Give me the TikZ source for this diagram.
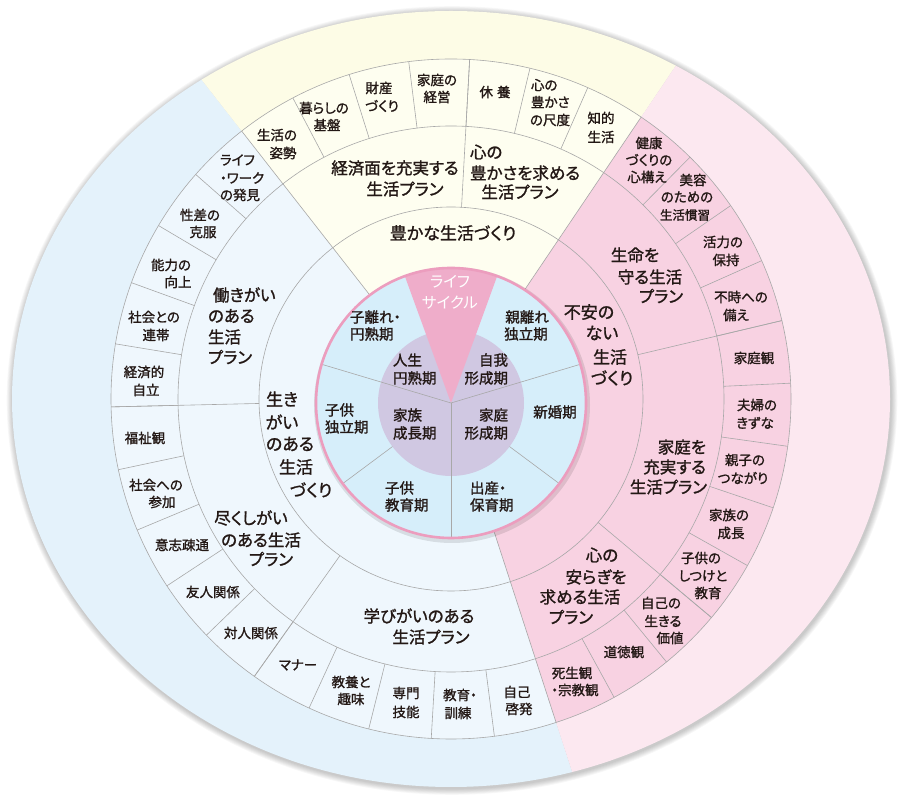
\documentclass[tikz,border=0pt]{standalone}
\usepackage{fontspec}
\setmainfont{Noto Sans CJK JP}[RawFeature={+palt},AutoFakeBold=1.3]
\definecolor{bandblue}{HTML}{E4F2FB}
\definecolor{cellblue}{HTML}{EFF7FD}
\definecolor{bandyel}{HTML}{FDFCE6}
\definecolor{cellyel}{HTML}{FEFEF0}
\definecolor{bandpink}{HTML}{FCE8F0}
\definecolor{cellpink}{HTML}{F8D2E2}
\definecolor{innerblue}{HTML}{D6EEFA}
\definecolor{innerpurp}{HTML}{D0C8E2}
\definecolor{wedgepink}{HTML}{EFADCA}
\definecolor{rimpink}{HTML}{EC9DBE}
\definecolor{gline}{HTML}{A8A8A8}
\definecolor{txt}{HTML}{231815}
\newcounter{tn}
\newcommand\tx[4]{\stepcounter{tn}\node[#1] (t\arabic{tn}) at (#2,{800-#3}) {#4};}
\begin{document}
\begin{tikzpicture}[x=1pt,y=1pt,
  lbl/.style={inner sep=0pt,outer sep=0pt,text=txt},
  item/.style={lbl,font=\fontsize{13.5}{16}\selectfont\bfseries},
  plan/.style={lbl,font=\fontsize{16.5}{19}\selectfont\bfseries},
  big/.style={lbl,font=\fontsize{17}{20}\selectfont\bfseries},
  inn/.style={lbl,font=\fontsize{14.5}{17}\selectfont\bfseries},
  wtxt/.style={inner sep=0pt,text=white,font=\fontsize{15.5}{18}\selectfont},
  gl/.style={draw=gline,line width=0.6pt}]
\useasboundingbox (0,0) rectangle (900,800);
\fill[white] (0,0) rectangle (900,800);
\coordinate (C) at (451,401);
\coordinate (c0) at (451,397);
% outer shadow
\foreach \i in {1,...,7}{
  \pgfmathsetmacro\rx{439+\i*0.9}
  \pgfmathsetmacro\ry{388+\i*0.9}
  \fill[black,opacity=0.03] ([shift={(1,-1.5)}]C) ellipse [x radius=\rx, y radius=\ry];
}
% outer band
\begin{scope}
\clip (C) ellipse [x radius=439, y radius=388];
\fill[bandblue] (C) -- ++(128:600) arc[start angle=128,end angle=288,radius=600] -- cycle;
\fill[bandyel] (C) -- ++(56:600) arc[start angle=56,end angle=128,radius=600] -- cycle;
\fill[bandpink] (C) -- ++(-72:600) arc[start angle=-72,end angle=56,radius=600] -- cycle;
\end{scope}
% rings
\fill[cellblue] (C) -- ++(128:340) arc[start angle=128,end angle=288,radius=340] -- cycle;
\fill[cellyel] (C) -- ++(56:340) arc[start angle=56,end angle=128,radius=340] -- cycle;
\fill[cellpink] (C) -- ++(-72:340) arc[start angle=-72,end angle=56,radius=340] -- cycle;
\draw[gl] (C) circle[radius=340];
\draw[gl] (C) circle[radius=273];
\draw[gl] (C) circle[radius=192];
% sector boundaries
\foreach \a in {128,56,-72} \draw[gl] ([shift={(\a:130)}]C) -- ([shift={(\a:340)}]C);
% plan boundaries
\foreach \a in {86.857,13.333,-40,181.333,234.667} \draw[gl] ([shift={(\a:192)}]C) -- ([shift={(\a:340)}]C);
% item boundaries
\foreach \k in {1,...,6}{\pgfmathsetmacro\a{128-\k*72/7}\draw[gl] ([shift={(\a:273)}]C) -- ([shift={(\a:340)}]C);}
\foreach \k in {1,...,11}{\pgfmathsetmacro\a{56-\k*32/3}\draw[gl] ([shift={(\a:273)}]C) -- ([shift={(\a:340)}]C);}
\foreach \k in {1,...,14}{\pgfmathsetmacro\a{128+\k*32/3}\draw[gl] ([shift={(\a:273)}]C) -- ([shift={(\a:340)}]C);}
% inner circle
\fill[black,opacity=0.10] ([shift={(1,-2)}]c0) circle[radius=138];
\fill[innerblue] (c0) circle[radius=135];
\fill[innerpurp] (c0) circle[radius=73];
\fill[wedgepink] (c0) -- ++(70:135) arc[start angle=70,end angle=110,radius=135] -- cycle;
\foreach \a in {16.667,163.333,270} \draw[gl] (c0) -- ++(\a:135);
\foreach \a in {-36.667,-143.333} \draw[gl] ([shift={(\a:73)}]c0) -- ([shift={(\a:135)}]c0);
\draw[rimpink,line width=2.6pt] (c0) circle[radius=135];
% inner texts
\tx{wtxt}{450}{282}{ライフ}
\tx{wtxt}{450}{303}{サイクル}
\tx{inn,anchor=west}{350}{317}{子離れ・}
\tx{inn,anchor=west}{350}{334}{円熟期}
\tx{inn}{527}{317}{親離れ}
\tx{inn}{526}{334}{独立期}
\tx{inn,anchor=west}{393}{360}{人生}
\tx{inn,anchor=west}{393}{378}{円熟期}
\tx{inn,anchor=east}{508}{360}{自我}
\tx{inn,anchor=east}{508}{378}{形成期}
\tx{inn,anchor=west}{325}{410}{子供}
\tx{inn,anchor=west}{325}{427}{独立期}
\tx{inn}{555}{412}{新婚期}
\tx{inn,anchor=west}{393}{415}{家族}
\tx{inn,anchor=west}{393}{433}{成長期}
\tx{inn,anchor=east}{508}{415}{家庭}
\tx{inn,anchor=east}{508}{433}{形成期}
\tx{inn,anchor=west}{385}{488}{子供}
\tx{inn,anchor=west}{385}{505}{教育期}
\tx{inn,anchor=west}{470}{488}{出産・}
\tx{inn,anchor=west}{470}{505}{保育期}
% ring 2
\tx{big}{453}{233}{豊かな生活づくり}
\tx{big}{589}{312}{不安の}
\tx{big}{602}{333}{ない}
\tx{big}{610}{357}{生活}
\tx{big}{612}{378}{づくり}
\tx{big}{282}{399}{生き}
\tx{big}{282}{422}{がい}
\tx{big}{290}{444}{のある}
\tx{big}{296}{467}{生活}
\tx{big}{311}{490}{づくり}
% plans
\tx{plan}{395}{168}{経済面を充実する}
\tx{plan}{405}{189}{生活プラン}
\tx{plan,anchor=west}{470}{152}{心の}
\tx{plan,anchor=west}{470}{173}{豊かさを求める}
\tx{plan}{520}{192}{生活プラン}
\tx{plan}{635}{255}{生命を}
\tx{plan}{650}{277}{守る生活}
\tx{plan}{661}{296}{プラン}
\tx{plan,anchor=east}{706}{447}{家庭を}
\tx{plan,anchor=east}{706}{467}{充実する}
\tx{plan,anchor=east}{707}{487}{生活プラン}
\tx{plan}{602}{555}{心の}
\tx{plan}{596}{577}{安らぎを}
\tx{plan}{580}{597}{求める生活}
\tx{plan}{571}{617}{プラン}
\tx{plan,anchor=west}{213}{295}{働きがい}
\tx{plan,anchor=west}{208}{316}{のある}
\tx{plan,anchor=west}{208}{337}{生活}
\tx{plan,anchor=west}{208}{357}{プラン}
\tx{plan}{251}{518}{尽くしがい}
\tx{plan}{261}{540}{のある生活}
\tx{plan}{271}{559}{プラン}
\tx{plan}{419}{616}{学びがいのある}
\tx{plan}{431}{637}{生活プラン}
% items yellow
\tx{item}{277}{135}{生活の}
\tx{item}{283}{153}{姿勢}
\tx{item}{324}{108}{暮らしの}
\tx{item}{327}{125}{基盤}
\tx{item}{379}{88}{財産}
\tx{item}{382}{106}{づくり}
\tx{item}{437}{80}{家庭の}
\tx{item}{437}{97}{経営}
\tx{item}{495}{92}{休\hspace{4pt}養}
\tx{item,anchor=west}{531}{85}{心の}
\tx{item,anchor=west}{531}{102}{豊かさ}
\tx{item,anchor=west}{530}{120}{の尺度}
\tx{item}{601}{118}{知的}
\tx{item}{601}{137}{生活}
% items pink
\tx{item}{649}{143}{健康}
\tx{item}{649}{160}{づくりの}
\tx{item}{647}{177}{心構え}
\tx{item}{693}{180}{美容}
\tx{item}{687}{197}{のための}
\tx{item,font=\fontsize{12.5}{15}\selectfont\bfseries}{685}{215}{生活慣習}
\tx{item}{723}{242}{活力の}
\tx{item}{726}{260}{保持}
\tx{item}{741}{297}{不時への}
\tx{item}{736}{315}{備え}
\tx{item}{754}{358}{家庭観}
\tx{item}{757}{405}{夫婦の}
\tx{item}{755}{423}{きずな}
\tx{item}{745}{460}{親子の}
\tx{item}{743}{478}{つながり}
\tx{item}{729}{515}{家族の}
\tx{item}{731}{533}{成長}
\tx{item}{701}{558}{子供の}
\tx{item}{703}{576}{しつけと}
\tx{item}{708}{593}{教育}
\tx{item}{661}{603}{自己の}
\tx{item}{663}{621}{生きる}
\tx{item}{670}{638}{価値}
\tx{item}{624}{652}{道徳観}
\tx{item}{572}{673}{死生観}
\tx{item}{575}{690}{・宗教観}
% items blue
\tx{item,anchor=west}{220}{160}{ライフ}
\tx{item,anchor=west}{220}{178}{・ワーク}
\tx{item,anchor=west}{220}{195}{の発見}
\tx{item}{200}{215}{性差の}
\tx{item}{203}{232}{克服}
\tx{item}{171}{265}{能力の}
\tx{item}{178}{282}{向上}
\tx{item}{154}{317}{社会との}
\tx{item}{156}{335}{連帯}
\tx{item}{144}{372}{経済的}
\tx{item}{146}{390}{自立}
\tx{item}{145}{438}{福祉観}
\tx{item}{156}{485}{社会への}
\tx{item}{162}{502}{参加}
\tx{item}{182}{545}{意志疎通}
\tx{item}{213}{592}{友人関係}
\tx{item}{251}{633}{対人関係}
\tx{item}{298}{665}{マナー}
\tx{item}{351}{682}{教養と}
\tx{item}{351}{699}{趣味}
\tx{item}{406}{693}{専門}
\tx{item}{406}{712}{技能}
\tx{item}{460}{695}{教育・}
\tx{item}{458}{713}{訓練}
\tx{item}{517}{692}{自己}
\tx{item}{519}{709}{啓発}
\end{tikzpicture}
\end{document}
